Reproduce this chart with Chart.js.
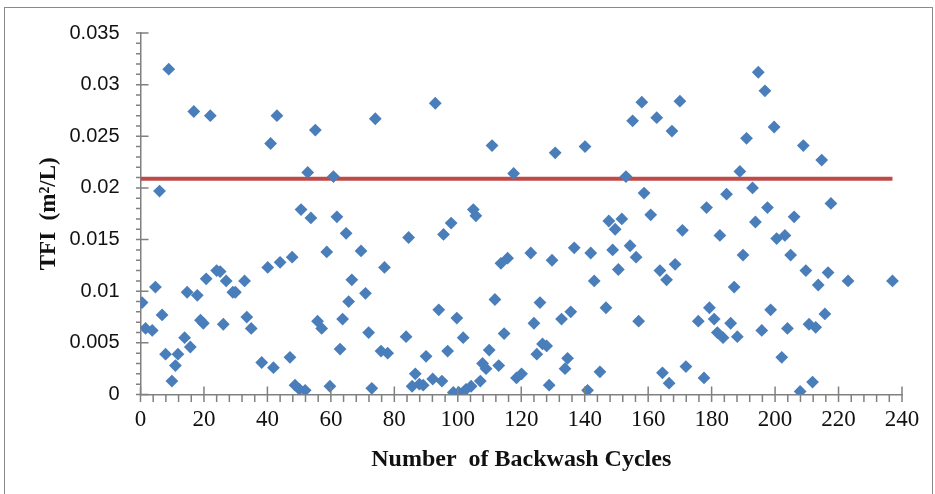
<!DOCTYPE html>
<html>
<head>
<meta charset="utf-8">
<script src="https://cdn.jsdelivr.net/npm/chart.js@4.4.3/dist/chart.umd.min.js"></script>
<style>
  html, body { margin: 0; padding: 0; background: #fff; overflow: hidden; }
  #wrap { position: relative; width: 935px; height: 494px; }
  #frame { position: absolute; left: 4px; top: 7px; width: 927px; height: 600px; border: 1px solid #8a8a8a; pointer-events: none; }
  canvas { position: absolute; left: 0; top: 0; }
</style>
</head>
<body>
<div id="wrap">
  <canvas id="tfiChart" width="935" height="494"></canvas>
  <div id="frame"></div>
</div>
<script>
// backwash cycle number for each measurement
const cycles = [
  0.5, 1.6, 3.7, 4.7, 6.0, 6.8, 7.9, 8.9, 9.9, 11.0, 11.8, 13.9, 14.7, 15.7, 16.8, 17.9, 18.9, 19.8,
  20.7, 22.0, 24.0, 25.1, 26.1, 27.0, 29.1, 29.9, 32.8, 33.5, 34.9, 38.2, 40.1, 41.0, 41.9, 43.0,
  44.0, 47.1, 47.8, 48.7, 50.1, 50.6, 51.9, 52.7, 53.7, 55.1, 55.8, 57.1, 58.7, 59.7, 60.8, 61.9,
  62.9, 63.7, 64.8, 65.6, 66.6, 69.5, 70.9, 71.9, 72.9, 74.0, 75.8, 76.9, 77.9, 83.7, 84.5, 85.6,
  86.6, 87.9, 89.1, 90.0, 92.1, 92.9, 94.0, 95.0, 95.5, 96.8, 97.9, 98.6, 99.7, 100.3, 101.7, 102.6,
  104.2, 104.9, 105.7, 107.1, 107.8, 108.9, 109.9, 110.8, 111.7, 112.9, 113.6, 114.6, 115.7, 117.6,
  118.5, 120.1, 123.0, 124.0, 124.9, 125.9, 126.7, 128.0, 128.8, 129.7, 130.7, 132.7, 133.8, 134.6,
  135.6, 136.7, 140.1, 140.9, 141.9, 143.0, 144.8, 146.7, 147.6, 148.8, 149.6, 150.6, 151.7, 153.0,
  154.3, 155.1, 156.2, 157.0, 158.0, 158.7, 160.8, 162.7, 163.7, 164.5, 165.8, 166.6, 167.5, 168.5,
  170.0, 170.8, 171.9, 175.8, 177.6, 178.4, 179.3, 180.8, 181.8, 182.6, 183.6, 184.7, 186.0, 187.1,
  188.1, 188.9, 189.9, 191.0, 192.9, 193.8, 194.7, 195.8, 196.8, 197.6, 198.6, 199.7, 200.5, 202.1,
  203.1, 203.9, 204.9, 206.0, 207.9, 208.9, 209.7, 210.7, 211.8, 212.8, 213.6, 214.7, 215.7, 216.7,
  217.6, 223.0, 237.0
];

// TFI (m2/L) measured at each cycle
const tfi = [
  0.0089, 0.0064, 0.0062, 0.0104, 0.0197, 0.0077, 0.0039, 0.0315, 0.0013, 0.0028, 0.0039, 0.0055, 0.0099, 0.0046, 0.0274, 0.0096, 0.0072, 0.0069,
  0.0112, 0.0270, 0.0120, 0.0119, 0.0068, 0.0110, 0.0099, 0.0099, 0.0110, 0.0075, 0.0064, 0.0031, 0.0123, 0.0243, 0.0026, 0.0270,
  0.0128, 0.0036, 0.0133, 0.0009, 0.0005, 0.0179, 0.0004, 0.0215, 0.0171, 0.0256, 0.0071, 0.0064, 0.0138, 0.0008, 0.0211, 0.0172,
  0.0044, 0.0073, 0.0156, 0.0090, 0.0111, 0.0139, 0.0098, 0.0060, 0.0006, 0.0267, 0.0042, 0.0123, 0.0040, 0.0056, 0.0152, 0.0008,
  0.0020, 0.0010, 0.0009, 0.0037, 0.0015, 0.0282, 0.0082, 0.0013, 0.0155, 0.0042, 0.0166, 0.0002, 0.0074, 0.0002, 0.0055, 0.0005,
  0.0008, 0.0179, 0.0173, 0.0013, 0.0030, 0.0025, 0.0043, 0.0241, 0.0092, 0.0028, 0.0127, 0.0059, 0.0132, 0.0214,
  0.0016, 0.0020, 0.0137, 0.0069, 0.0039, 0.0089, 0.0049, 0.0047, 0.0009, 0.0130, 0.0234, 0.0073, 0.0025, 0.0035,
  0.0080, 0.0142, 0.0240, 0.0004, 0.0137, 0.0110, 0.0022, 0.0084, 0.0168, 0.0140, 0.0160, 0.0121, 0.0170, 0.0211,
  0.0144, 0.0265, 0.0133, 0.0071, 0.0283, 0.0195, 0.0174, 0.0268, 0.0120, 0.0021, 0.0111, 0.0011, 0.0255, 0.0126,
  0.0284, 0.0159, 0.0027, 0.0071, 0.0016, 0.0181, 0.0084, 0.0073, 0.0060, 0.0154, 0.0055, 0.0194, 0.0069, 0.0104,
  0.0056, 0.0216, 0.0135, 0.0248, 0.0200, 0.0167, 0.0312, 0.0062, 0.0294, 0.0181, 0.0082, 0.0259, 0.0151, 0.0036,
  0.0154, 0.0064, 0.0135, 0.0172, 0.0003, 0.0241, 0.0120, 0.0068, 0.0012, 0.0065, 0.0106, 0.0227, 0.0078, 0.0118,
  0.0185, 0.0110, 0.0110
];

// horizontal reference line
const limitX = [0, 237];
const limitY = [0.0209, 0.0209];

const axisGray = '#808080';

// excel-like tick marks: major ones cross the axis, minor ones sit outside
const tickMarks = {
  id: 'tickMarks',
  afterDraw(chart) {
    const ctx = chart.ctx;
    const xs = chart.scales.x, ys = chart.scales.y;
    const axisY = ys.getPixelForValue(0);
    const axisX = xs.getPixelForValue(0);
    ctx.save();
    ctx.strokeStyle = axisGray;
    ctx.lineWidth = 1.5;
    ctx.beginPath();
    for (let v = 0; v <= 240; v += 4) {
      const px = xs.getPixelForValue(v);
      const major = v % 20 === 0;
      ctx.moveTo(px, major ? axisY - 8 : axisY);
      ctx.lineTo(px, axisY + 7.5);
    }
    for (let i = 0; i <= 35; i++) {
      const py = ys.getPixelForValue(i / 1000);
      const major = i % 5 === 0;
      ctx.moveTo(axisX - 4.5, py);
      ctx.lineTo(major ? axisX + 8 : axisX, py);
    }
    ctx.stroke();
    ctx.restore();
  }
};

new Chart(document.getElementById('tfiChart'), {
  type: 'scatter',
  data: {
    datasets: [
      {
        label: 'TFI',
        data: cycles.map((c, i) => ({ x: c, y: tfi[i] })),
        pointStyle: 'rectRot',
        pointRadius: 6.4,
        pointBackgroundColor: '#4A7EBB',
        pointBorderWidth: 0,
        borderWidth: 0
      },
      {
        label: 'Limit',
        data: limitX.map((x, i) => ({ x: x, y: limitY[i] })),
        showLine: true,
        borderColor: '#BE4B48',
        borderWidth: 4,
        pointRadius: 0
      }
    ]
  },
  options: {
    responsive: false,
    animation: false,
    layout: { padding: { left: 0, top: 30, right: 33, bottom: 0 } },
    plugins: { legend: { display: false }, tooltip: { enabled: false } },
    scales: {
      x: {
        type: 'linear',
        min: 0,
        max: 240,
        afterFit(scale) { scale.height = 99.5; },
        ticks: {
          stepSize: 20,
          padding: 12,
          color: '#111',
          font: { family: 'Liberation Serif', size: 23 }
        },
        grid: { display: false, drawTicks: false },
        border: { display: true, color: axisGray, width: 1.5 },
        title: {
          display: true,
          text: 'Number  of Backwash Cycles',
          color: '#111',
          font: { family: 'Liberation Serif', size: 24, weight: 'bold' },
          padding: { bottom: 20 }
        }
      },
      y: {
        type: 'linear',
        min: 0,
        max: 0.035,
        afterFit(scale) { scale.width = 140.5; },
        ticks: {
          stepSize: 0.005,
          padding: 21,
          color: '#111',
          font: { family: 'Liberation Sans', size: 20 },
          callback: v => String(Math.round(v * 1000) / 1000)
        },
        grid: { display: false, drawTicks: false },
        border: { display: true, color: axisGray, width: 1.5 },
        title: {
          display: true,
          text: 'TFI  (m²/L)',
          color: '#111',
          font: { family: 'Liberation Serif', size: 23, weight: 'bold' },
          padding: { top: 35 }
        }
      }
    }
  },
  plugins: [tickMarks]
});
</script>
</body>
</html>
